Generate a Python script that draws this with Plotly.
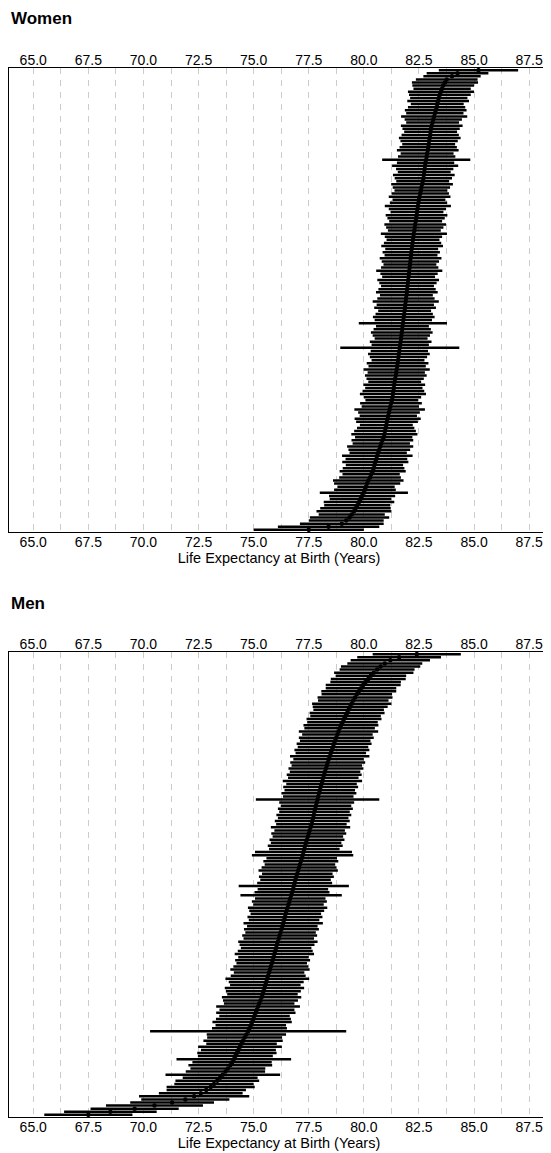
import plotly.graph_objects as go

# ---------------- data (rank 0 = lowest, bottom row) ----------------
women_est = [
    77.5, 78.4, 79.0, 79.2, 79.35, 79.45, 79.55, 79.62, 79.7, 79.78,
    79.85, 79.92, 80.0, 80.05, 80.1, 80.15, 80.2, 80.28, 80.33, 80.4,
    80.44, 80.48, 80.52, 80.57, 80.61, 80.65, 80.7, 80.74, 80.79, 80.84,
    80.9, 80.93, 80.96, 80.99, 81.02, 81.05, 81.08, 81.11, 81.14, 81.17,
    81.2, 81.23, 81.27, 81.3, 81.32, 81.34, 81.36, 81.38, 81.4, 81.42,
    81.45, 81.47, 81.49, 81.51, 81.53, 81.55, 81.57, 81.59, 81.61, 81.63,
    81.65, 81.67, 81.69, 81.7, 81.72, 81.74, 81.75, 81.77, 81.79, 81.81,
    81.83, 81.85, 81.87, 81.88, 81.9, 81.91, 81.93, 81.95, 81.96, 81.98,
    82.0, 82.01, 82.03, 82.05, 82.06, 82.08, 82.09, 82.11, 82.12, 82.14,
    82.15, 82.17, 82.19, 82.21, 82.23, 82.25, 82.27, 82.29, 82.31, 82.33,
    82.35, 82.37, 82.39, 82.41, 82.43, 82.45, 82.48, 82.5, 82.53, 82.56,
    82.59, 82.61, 82.64, 82.67, 82.7, 82.72, 82.74, 82.76, 82.78, 82.8,
    82.83, 82.85, 82.87, 82.9, 82.92, 82.94, 82.96, 82.99, 83.01, 83.03,
    83.05, 83.08, 83.12, 83.15, 83.19, 83.22, 83.26, 83.3, 83.33, 83.37,
    83.4, 83.45, 83.5, 83.55, 83.6, 83.68, 83.76, 84.0, 84.25, 85.2,
]
women_ci = [
    2.5, 2.3, 1.9, 1.7, 1.8, 1.5, 1.7, 1.6, 1.5, 1.6,
    1.4, 1.5, 2.0, 1.4, 1.3, 1.5, 1.6, 1.4, 1.3, 1.5,
    1.4, 1.3, 1.5, 1.4, 1.6, 1.3, 1.4, 1.5, 1.3, 1.4,
    1.3, 1.5, 1.4, 1.3, 1.2, 1.4, 1.5, 1.3, 1.4, 1.6,
    1.3, 1.4, 1.2, 1.3, 1.5, 1.4, 1.3, 1.4, 1.2, 1.3,
    1.4, 1.3, 1.5, 1.3, 1.4, 1.2, 1.3, 1.4, 1.3, 2.7,
    1.3, 1.4, 1.2, 1.3, 1.4, 1.3, 1.2, 2.0, 1.3, 1.4,
    1.3, 1.2, 1.4, 1.3, 1.5, 1.3, 1.2, 1.4, 1.3, 1.2,
    1.3, 1.4, 1.2, 1.3, 1.5, 1.3, 1.2, 1.3, 1.4, 1.2,
    1.3, 1.2, 1.4, 1.3, 1.2, 1.3, 1.5, 1.2, 1.3, 1.4,
    1.2, 1.3, 1.4, 1.2, 1.3, 1.5, 1.3, 1.2, 1.4, 1.3,
    1.2, 1.3, 1.4, 1.2, 1.3, 1.4, 1.2, 1.3, 1.5, 1.3,
    2.0, 1.3, 1.2, 1.4, 1.3, 1.2, 1.3, 1.4, 1.3, 1.2,
    1.3, 1.4, 1.2, 1.3, 1.5, 1.3, 1.4, 1.3, 1.2, 1.4,
    1.3, 1.4, 1.5, 1.3, 1.4, 1.5, 1.4, 1.3, 1.4, 1.8,
]
men_est = [
    67.5, 68.5, 69.6, 70.5, 71.3, 71.9, 72.3, 72.6, 72.85, 73.05,
    73.2, 73.35, 73.48, 73.6, 73.72, 73.83, 73.94, 74.02, 74.1, 74.17,
    74.24, 74.31, 74.38, 74.45, 74.52, 74.59, 74.67, 74.75, 74.81, 74.87,
    74.93, 74.99, 75.04, 75.1, 75.15, 75.2, 75.25, 75.31, 75.36, 75.4,
    75.44, 75.49, 75.53, 75.57, 75.62, 75.66, 75.7, 75.74, 75.78, 75.82,
    75.86, 75.9, 75.94, 75.98, 76.02, 76.06, 76.1, 76.14, 76.18, 76.22,
    76.26, 76.3, 76.34, 76.38, 76.42, 76.46, 76.5, 76.54, 76.58, 76.62,
    76.66, 76.7, 76.74, 76.78, 76.82, 76.86, 76.9, 76.94, 76.98, 77.02,
    77.06, 77.1, 77.14, 77.18, 77.22, 77.26, 77.3, 77.34, 77.38, 77.42,
    77.46, 77.5, 77.54, 77.58, 77.62, 77.66, 77.7, 77.73, 77.76, 77.8,
    77.83, 77.86, 77.9, 77.93, 77.96, 78.0, 78.04, 78.08, 78.12, 78.16,
    78.2, 78.24, 78.28, 78.32, 78.36, 78.4, 78.45, 78.5, 78.55, 78.6,
    78.65, 78.7, 78.75, 78.8, 78.85, 78.9, 78.96, 79.03, 79.1, 79.17,
    79.24, 79.31, 79.38, 79.45, 79.52, 79.6, 79.68, 79.77, 79.87, 79.97,
    80.08, 80.2, 80.32, 80.45, 80.6, 80.76, 80.95, 81.2, 81.6, 82.4,
]
men_ci = [
    2.0, 2.1, 2.0, 2.2, 1.9, 2.0, 2.5, 1.9, 1.8, 2.0,
    1.8, 1.9, 1.7, 2.6, 1.8, 1.7, 1.9, 1.8, 2.6, 1.7,
    1.8, 1.7, 1.9, 1.6, 1.8, 1.7, 1.8, 4.45, 1.7, 1.6,
    1.8, 1.7, 1.6, 1.8, 1.7, 1.9, 1.6, 1.7, 1.8, 1.6,
    1.7, 1.8, 1.6, 1.7, 1.9, 1.7, 1.6, 1.8, 1.7, 1.6,
    1.7, 1.6, 1.8, 1.7, 1.6, 1.7, 1.8, 1.6, 1.7, 1.6,
    1.7, 1.6, 1.8, 1.6, 1.7, 1.6, 1.7, 1.8, 1.6, 1.7,
    1.6, 2.3, 1.7, 1.6, 2.5, 1.7, 1.6, 1.7, 1.6, 1.8,
    1.7, 1.6, 1.7, 1.6, 2.3, 2.2, 1.6, 1.7, 1.6, 1.7,
    1.6, 1.7, 1.6, 1.8, 1.6, 1.7, 1.6, 1.7, 1.6, 1.7,
    1.6, 1.7, 2.8, 1.6, 1.7, 1.6, 1.7, 1.6, 1.8, 1.6,
    1.7, 1.6, 1.7, 1.6, 1.7, 1.6, 1.8, 1.6, 1.7, 1.6,
    1.7, 1.6, 1.7, 1.6, 1.8, 1.6, 1.7, 1.6, 1.7, 1.6,
    1.7, 1.6, 1.7, 1.8, 1.6, 1.7, 1.6, 1.7, 1.6, 1.7,
    1.6, 1.7, 1.6, 1.8, 1.7, 1.8, 1.7, 1.8, 1.9, 2.0,
]
x_ticks = [65.0, 67.5, 70.0, 72.5, 75.0, 77.5, 80.0, 82.5, 85.0, 87.5]
panel_titles = ["Women", "Men"]
x_title = "Life Expectancy at Birth (Years)"

# ---------------- figure ----------------
# the page body has an 8px margin, so the figure is drawn 8px smaller and
# all pixel positions below are (reference position - 8)
OFF = 8
W, H = 551 - OFF, 1153 - OFF
FONT = "Liberation Sans, Arial, sans-serif"
XR = [63.9, 88.4]
GRID = "#cccccc"

fig = go.Figure()

def add_panel(est, ci, xa, ya):
    fig.add_trace(go.Scatter(
        x=est, y=list(range(len(est))), mode="markers",
        marker=dict(color="black", size=4.5, line=dict(width=0)),
        error_x=dict(type="data", array=ci, symmetric=True,
                     width=0, thickness=2.5, color="black"),
        xaxis=xa, yaxis=ya, showlegend=False, hoverinfo="x",
    ))

add_panel(women_est, women_ci, "x", "y")
add_panel(men_est, men_ci, "x2", "y2")

def py(px_ref):
    return 1 - (px_ref - OFF) / H

top_dom = [py(532), py(68)]
bot_dom = [py(1117), py(652)]

def xaxis_main(anchor):
    return dict(
        range=XR, anchor=anchor, side="bottom",
        tickvals=x_ticks, tickformat=".1f",
        tickfont=dict(family=FONT, size=14, color="black"),
        ticklabelstandoff=-3,
        ticks="", showline=True, linecolor="black", linewidth=1, mirror=True,
        showgrid=True, gridcolor=GRID, griddash="6px,6px", gridwidth=1,
        minor=dict(dtick=1.25, tick0=65, showgrid=True, gridcolor=GRID,
                   griddash="6px,6px", gridwidth=1),
        zeroline=False,
        title=dict(text=x_title, font=dict(family=FONT, size=14.5, color="black"),
                   standoff=0),
    )

def xaxis_top(over, anchor):
    return dict(
        range=XR, overlaying=over, anchor=anchor, side="top",
        tickvals=x_ticks, tickformat=".1f",
        tickfont=dict(family=FONT, size=14, color="black"),
        ticklabelstandoff=-1,
        ticks="", showline=False, showgrid=False, zeroline=False,
    )

def yaxis(dom, n):
    return dict(
        domain=dom, range=[-0.7, n - 0.3], showticklabels=False, ticks="",
        showgrid=False, zeroline=False, showline=True, linecolor="black",
        linewidth=1, mirror=True,
    )

fig.update_layout(
    width=W, height=H,
    margin=dict(l=9 - OFF, r=2, t=0, b=0, autoexpand=False),
    paper_bgcolor="white", plot_bgcolor="white",
    xaxis=xaxis_main("y"),
    xaxis2=xaxis_main("y2"),
    xaxis3=xaxis_top("x", "y"),
    xaxis4=xaxis_top("x2", "y2"),
    yaxis=yaxis(top_dom, len(women_est)),
    yaxis2=yaxis(bot_dom, len(men_est)),
    annotations=[
        dict(text="<b>%s</b>" % panel_titles[0], x=0, y=py(18), xref="paper",
             yref="paper", xanchor="left", yanchor="middle", showarrow=False,
             font=dict(family=FONT, size=17, color="black")),
        dict(text="<b>%s</b>" % panel_titles[1], x=0, y=py(603), xref="paper",
             yref="paper", xanchor="left", yanchor="middle", showarrow=False,
             font=dict(family=FONT, size=17, color="black")),
    ],
)
# invisible traces so the mirrored top tick labels render
fig.add_trace(go.Scatter(x=[XR[0]], y=[0], xaxis="x3", yaxis="y", mode="markers",
                         marker=dict(opacity=0), showlegend=False, hoverinfo="skip"))
fig.add_trace(go.Scatter(x=[XR[0]], y=[0], xaxis="x4", yaxis="y2", mode="markers",
                         marker=dict(opacity=0), showlegend=False, hoverinfo="skip"))

fig.write_html("out.html")
